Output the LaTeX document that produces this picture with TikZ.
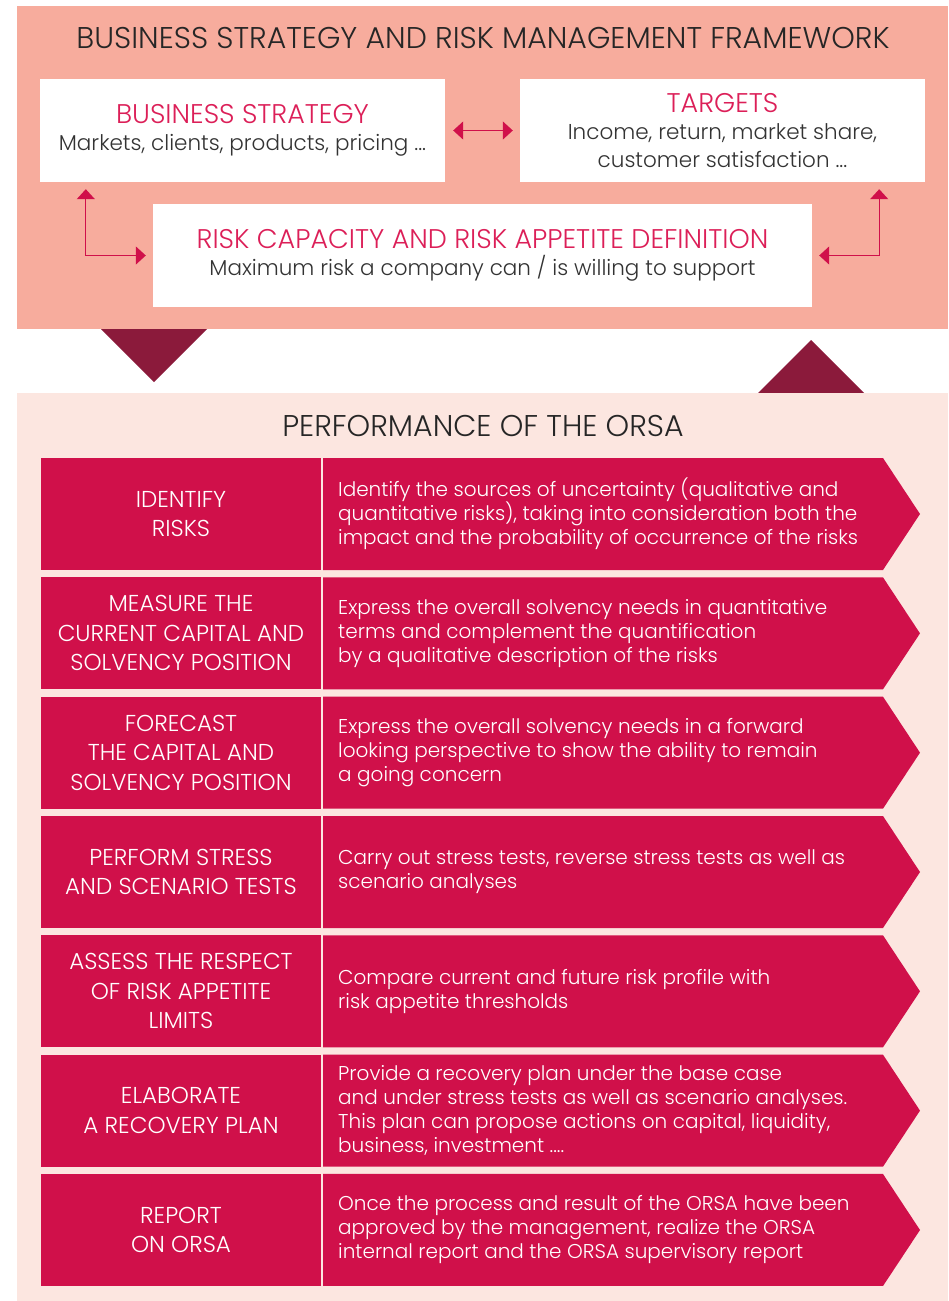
\documentclass[tikz,border=0pt]{standalone}
\usepackage{fontspec}
\setmainfont{Poppins}[UprightFont=* Light]
\usetikzlibrary{arrows.meta}
\definecolor{salmon}{HTML}{F7AC9D}
\definecolor{pinkbg}{HTML}{FCE6E0}
\definecolor{crimson}{HTML}{D0104A}
\definecolor{headred}{HTML}{DC1F58}
\definecolor{darkred}{HTML}{8B1A3B}
\definecolor{bodygrey}{HTML}{333333}
\begin{document}
\begin{tikzpicture}[x=1pt,y=-1pt,
  framebox/.style={fill=white, minimum height=103, inner sep=0, align=center,
    text=bodygrey, font=\fontsize{21.5}{27.5}\selectfont},
  steplabel/.style={fill=crimson, minimum width=280, minimum height=112, inner sep=0,
    align=center, text=white, font=\fontsize{23}{29.5}\selectfont},
  stepdesc/.style={anchor=west, align=left, inner sep=0, text=white,
    font=\fontsize{20}{24}\selectfont},
  link/.style={draw=crimson, line width=1.3pt, {Triangle[width=18pt,length=10pt]}-{Triangle[width=18pt,length=10pt]},
    shorten <=7pt, shorten >=7pt}]
\useasboundingbox (0,0) rectangle (948,1301);
% framework
\fill[salmon] (17,6) rectangle (948,329);
\node[text=black!85, font=\fontsize{30}{34}\selectfont] (title) at (483,38) {BUSINESS STRATEGY AND RISK MANAGEMENT FRAMEWORK};
\node[framebox, minimum width=405] (bs) at (242.5,130.5)
  {{\fontsize{27}{27.5}\selectfont\color{headred}BUSINESS STRATEGY}\\Markets, clients, products, pricing ...};
\node[framebox, minimum width=405] (tg) at (722.5,130.5)
  {{\fontsize{27}{27.5}\selectfont\color{headred}TARGETS}\\Income, return, market share,\\customer satisfaction ...};
\node[framebox, minimum width=659] (rc) at (482.5,255.5)
  {{\fontsize{27}{27.5}\selectfont\color{headred}RISK CAPACITY AND RISK APPETITE DEFINITION}\\Maximum risk a company can / is willing to support};
\draw[link, shorten <=8pt, shorten >=7pt] (bs.east) -- (tg.west);
\draw[link] ([xshift=46]bs.south west) |- (rc.west);
\draw[link] ([xshift=-46]tg.south east) |- (rc.east);
% triangles
\fill[darkred] (101,329) -- (207,329) -- (154,382) -- cycle;
\fill[darkred] (758,393) -- (864,393) -- (811,340) -- cycle;
% orsa
\fill[pinkbg] (17,393) rectangle (948,1301);
\node[text=black!85, font=\fontsize{30}{34}\selectfont] (orsa) at (483,426) {PERFORMANCE OF THE ORSA};
\foreach \lab/\txt [count=\i from 0] in {
  {IDENTIFY\\RISKS}/{Identify the sources of uncertainty (qualitative and\\quantitative risks), taking into consideration both the\\impact and the probability of occurrence of the risks},
  {MEASURE THE\\CURRENT CAPITAL AND\\SOLVENCY POSITION}/{Express the overall solvency needs in quantitative\\terms and complement the quantification\\by a qualitative description of the risks},
  {FORECAST\\THE CAPITAL AND\\SOLVENCY POSITION}/{Express the overall solvency needs in a forward\\looking perspective to show the ability to remain\\a going concern},
  {PERFORM STRESS\\AND SCENARIO TESTS}/{Carry out stress tests, reverse stress tests as well as\\scenario analyses},
  {ASSESS THE RESPECT\\OF RISK APPETITE\\LIMITS}/{Compare current and future risk profile with\\risk appetite thresholds},
  {ELABORATE\\A RECOVERY PLAN}/{Provide a recovery plan under the base case\\and under stress tests as well as scenario analyses.\\This plan can propose actions on capital, liquidity,\\business, investment ....},
  {REPORT\\ON ORSA}/{Once the process and result of the ORSA have been\\approved by the management, realize the ORSA\\internal report and the ORSA supervisory report}}{
  \pgfmathsetmacro\yc{514+119.33*\i}
  \node[steplabel] (s\i) at (181,\yc) {\lab};
  \fill[crimson] (323,\yc-56) -- (883,\yc-56) -- (920,\yc) -- (883,\yc+56) -- (323,\yc+56) -- cycle;
  \node[stepdesc] (d\i) at (338,\yc) {\txt};
}
\end{tikzpicture}
\end{document}
